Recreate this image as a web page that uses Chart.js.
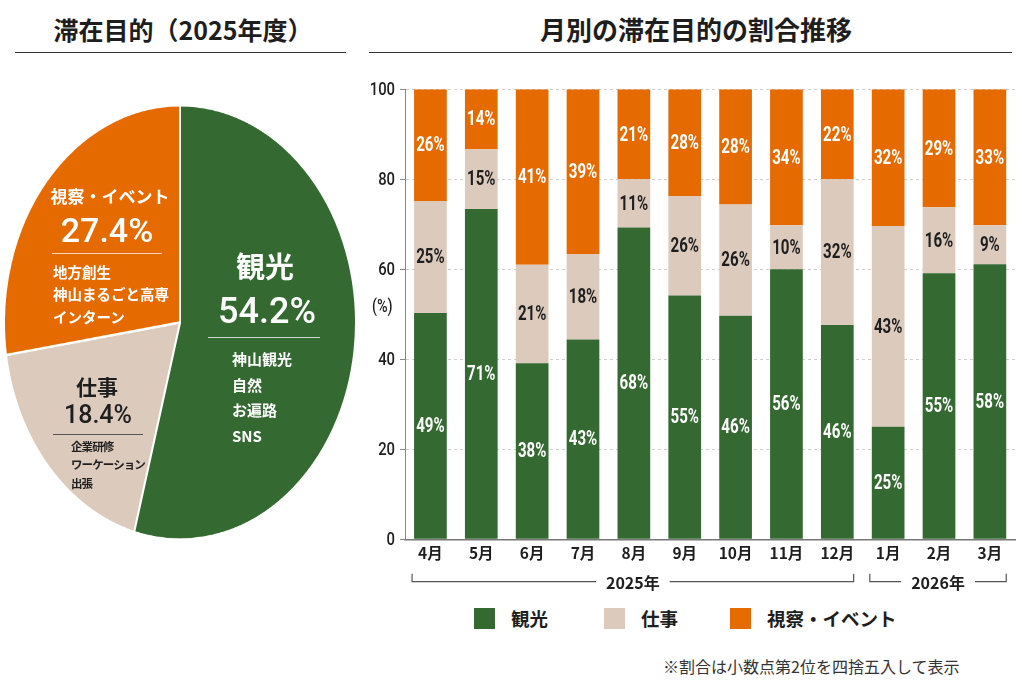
<!DOCTYPE html>
<html lang="ja">
<head>
<meta charset="utf-8">
<script src="https://cdn.jsdelivr.net/npm/chart.js@4.4.1/dist/chart.umd.min.js"></script>
<style>
  body { margin: 0; background: #fff; }
  #page { position: relative; width: 1024px; height: 683px; overflow: hidden;
          font-family: "Noto Sans CJK JP", "Noto Sans", sans-serif; color: #1e1e1e; }
  .t { position: absolute; white-space: nowrap; line-height: 1; }
  .c { transform: translate(-50%, -50%); }
  .l { transform: translateY(-50%); }
  .num { font-family: Roboto, "Noto Sans", sans-serif; font-weight: 500; }
  .rule { position: absolute; }
  .sw { position: absolute; width: 21px; height: 21px; }
  #pieBox { position: absolute; left: 3px; top: 103.5px; width: 354px; height: 354px;
            transform: scaleY(1.234); transform-origin: top left; }
  #barBox { position: absolute; left: 360px; top: 70px; width: 664px; height: 530px; }
  .w { color: #fff; }
  .sub { font-size: 11.5px; font-weight: 700; letter-spacing: -0.9px; }
</style>
</head>
<body>
<div id="page">
  <div class="t c" style="left:183px;top:29px;font-size:25px;font-weight:700;">滞在目的（2025年度）</div>
  <div class="rule" style="left:15px;top:51.5px;width:331px;height:1.5px;background:#333;"></div>
  <div class="t c" style="left:696px;top:29px;font-size:26px;font-weight:700;">月別の滞在目的の割合推移</div>
  <div class="rule" style="left:369px;top:51.5px;width:643px;height:1.5px;background:#333;"></div>

  <div id="pieBox"><canvas id="pie"></canvas></div>

  <!-- pie annotations -->
  <div class="t c w" style="left:110px;top:195px;font-size:17px;font-weight:700;">視察・イベント</div>
  <div class="t c w num" style="left:107px;top:230px;font-size:34px;">27.4%</div>
  <div class="rule" style="left:52px;top:253px;width:110px;height:1px;background:rgba(255,255,255,0.75);"></div>
  <div class="t l w" style="left:53px;top:272px;font-size:14.5px;font-weight:700;">地方創生</div>
  <div class="t l w" style="left:53px;top:294px;font-size:14.5px;font-weight:700;">神山まるごと高専</div>
  <div class="t l w" style="left:53px;top:317px;font-size:14.5px;font-weight:700;">インターン</div>

  <div class="t c w" style="left:265px;top:265px;font-size:29px;font-weight:700;">観光</div>
  <div class="t c w num" style="left:267px;top:311px;font-size:36px;">54.2%</div>
  <div class="rule" style="left:208px;top:337px;width:112px;height:1px;background:rgba(255,255,255,0.75);"></div>
  <div class="t l w" style="left:232px;top:358px;font-size:15px;font-weight:700;">神山観光</div>
  <div class="t l w" style="left:232px;top:384px;font-size:15px;font-weight:700;">自然</div>
  <div class="t l w" style="left:232px;top:409px;font-size:15px;font-weight:700;">お遍路</div>
  <div class="t l w" style="left:232px;top:435px;font-size:15px;font-weight:700;">SNS</div>

  <div class="t c" style="left:97px;top:386px;font-size:21px;font-weight:700;">仕事</div>
  <div class="t c num" style="left:98px;top:414px;font-size:25px;">18.4%</div>
  <div class="rule" style="left:53px;top:434px;width:90px;height:1px;background:#555;"></div>
  <div class="t l sub" style="left:71px;top:447px;">企業研修</div>
  <div class="t l sub" style="left:71px;top:465px;">ワーケーション</div>
  <div class="t l sub" style="left:71px;top:484px;">出張</div>

  <div id="barBox"><canvas id="bars"></canvas></div>
  <div class="t" style="left:372px;top:297px;font-size:18px;font-weight:500;font-family:Roboto,sans-serif;transform:scaleX(0.8);transform-origin:left top;">(%)</div>

  <!-- legend -->
  <div class="sw" style="left:474px;top:608px;background:#346a31;"></div>
  <div class="t l" style="left:511px;top:618px;font-size:18.5px;font-weight:700;">観光</div>
  <div class="sw" style="left:604px;top:608px;background:#dccabd;"></div>
  <div class="t l" style="left:641px;top:618px;font-size:18.5px;font-weight:700;">仕事</div>
  <div class="sw" style="left:730px;top:608px;background:#e56a00;"></div>
  <div class="t l" style="left:767px;top:618px;font-size:18.5px;font-weight:700;">視察・イベント</div>

  <div class="t l" style="left:663px;top:666px;font-size:16px;color:#333;">※割合は小数点第2位を四捨五入して表示</div>
</div>

<script>
const GREEN = '#346a31'
const BEIGE = '#dccabd'
const ORANGE = '#e56a00'

// 滞在目的（2025年度）
const pieLabels = ['観光', '仕事', '視察・イベント']
const pieValues = [54.2, 18.4, 27.4]

// 月別
const months = ['4月', '5月', '6月', '7月', '8月', '9月', '10月', '11月', '12月', '1月', '2月', '3月']
// bar heights as drawn
const kanko    = [50.3, 73.4, 39.1, 44.4, 69.3, 54.2, 49.7, 60.0, 47.6, 25.0, 59.1, 61.1]
const shigoto  = [24.9, 13.3, 21.9, 19.0, 10.7, 22.1, 24.7,  9.8, 32.4, 44.6, 14.7,  8.7]
const shisatsu = [24.8, 13.3, 39.0, 36.6, 20.0, 23.7, 25.6, 30.2, 20.0, 30.4, 26.2, 30.2]
// printed percentages
const kankoPct    = [49, 71, 38, 43, 68, 55, 46, 56, 46, 25, 55, 58]
const shigotoPct  = [25, 15, 21, 18, 11, 26, 26, 10, 32, 43, 16, 9]
const shisatsuPct = [26, 14, 41, 39, 21, 28, 28, 34, 22, 32, 29, 33]
const yTicks = [0, 20, 40, 60, 80, 100]

const years = ['2025年', '2026年']
const yearFrom = [0, 9]
const yearTo = [8, 11]

new Chart(document.getElementById('pie'), {
  type: 'pie',
  data: {
    labels: pieLabels,
    datasets: [{
      data: pieValues,
      backgroundColor: [GREEN, BEIGE, ORANGE],
      borderColor: '#fff',
      borderWidth: 2
    }]
  },
  options: {
    responsive: true,
    maintainAspectRatio: false,
    animation: false,
    devicePixelRatio: 2,
    plugins: { legend: { display: false }, tooltip: { enabled: false } }
  }
})

// narrow text helper
function narrowText(ctx, text, x, y, sx, align) {
  ctx.save()
  ctx.translate(x, y)
  ctx.scale(sx, 1)
  ctx.textAlign = align
  ctx.textBaseline = 'middle'
  ctx.fillText(text, 0, 0)
  ctx.restore()
}

const segLabels = {
  id: 'segLabels',
  afterDatasetsDraw(chart) {
    const ctx = chart.ctx
    ctx.save()
    ctx.font = 'bold 21px Roboto, sans-serif'
    chart.data.datasets.forEach((ds, di) => {
      ctx.fillStyle = ds.textColor
      chart.getDatasetMeta(di).data.forEach((bar, i) => {
        narrowText(ctx, ds.pct[i] + '%', bar.x, (bar.y + bar.base) / 2 + 1, 0.72, 'center')
      })
    })
    ctx.restore()
  }
}

const yLabels = {
  id: 'yLabels',
  afterDraw(chart) {
    const ctx = chart.ctx
    const s = chart.scales.y
    ctx.save()
    ctx.font = '500 19px Roboto, sans-serif'
    ctx.fillStyle = '#1e1e1e'
    yTicks.forEach(v => {
      narrowText(ctx, String(v), s.left + s.width - 10, s.getPixelForValue(v) + 1, 0.78, 'right')
    })
    ctx.restore()
  }
}

const yearBrackets = {
  id: 'yearBrackets',
  afterDraw(chart) {
    const ctx = chart.ctx
    const bars = chart.getDatasetMeta(0).data
    const y = chart.chartArea.bottom + 42.4
    ctx.save()
    ctx.strokeStyle = '#555'
    ctx.lineWidth = 1.2
    ctx.font = 'bold 16px "Noto Sans CJK JP", sans-serif'
    ctx.fillStyle = '#1e1e1e'
    ctx.textAlign = 'center'
    ctx.textBaseline = 'middle'
    years.forEach((label, k) => {
      const a = bars[yearFrom[k]], b = bars[yearTo[k]]
      const x1 = a.x - a.width / 2 - 2
      const x2 = b.x + b.width / 2
      const mid = (x1 + x2) / 2
      const half = ctx.measureText(label).width / 2 + 10
      ctx.beginPath()
      ctx.moveTo(x1, y - 8)
      ctx.lineTo(x1, y)
      ctx.lineTo(mid - half, y)
      ctx.moveTo(mid + half, y)
      ctx.lineTo(x2, y)
      ctx.lineTo(x2, y - 8)
      ctx.stroke()
      ctx.fillText(label, mid, y + 1)
    })
    ctx.restore()
  }
}

new Chart(document.getElementById('bars'), {
  type: 'bar',
  data: {
    labels: months,
    datasets: [
      { label: '観光', data: kanko, backgroundColor: GREEN, pct: kankoPct, textColor: '#fff' },
      { label: '仕事', data: shigoto, backgroundColor: BEIGE, pct: shigotoPct, textColor: '#1e1e1e' },
      { label: '視察・イベント', data: shisatsu, backgroundColor: ORANGE, pct: shisatsuPct, textColor: '#fff' }
    ]
  },
  options: {
    responsive: true,
    maintainAspectRatio: false,
    animation: false,
    barPercentage: 0.643,
    categoryPercentage: 1,
    layout: { padding: { top: 19.3, right: 8.7, left: 0, bottom: 30.7 } },
    plugins: { legend: { display: false }, tooltip: { enabled: false } },
    scales: {
      x: {
        stacked: true,
        grid: { display: false },
        border: { display: true, color: '#777', width: 1.5 },
        ticks: { padding: -3, color: '#1e1e1e', font: { family: '"Noto Sans CJK JP"', size: 15.5, weight: 'bold' } },
        afterFit(s) { s.height = 30 }
      },
      y: {
        stacked: true,
        min: 0,
        max: 100,
        afterBuildTicks(s) { s.ticks = yTicks.map(v => ({ value: v })) },
        ticks: { display: false },
        grid: { color: '#cfcfcf', lineWidth: 1, tickLength: 5, tickColor: '#888' },
        border: { display: true, color: '#888', width: 1, dash: [3, 3] },
        afterFit(s) { s.width = 45 }
      }
    }
  },
  plugins: [segLabels, yLabels, yearBrackets]
})
</script>
</body>
</html>
